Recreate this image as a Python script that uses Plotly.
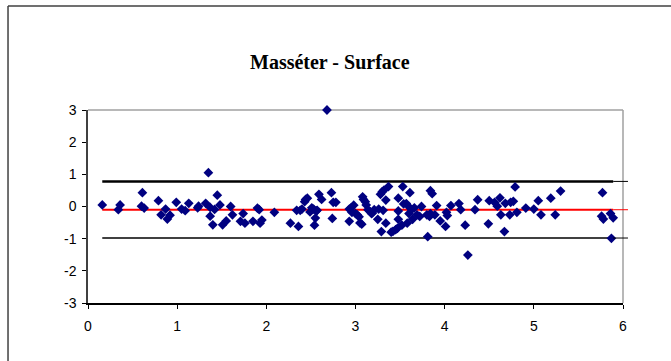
import plotly.graph_objects as go

# Bland-Altman style differences: mean value (x) vs difference (y)
mean_vals = [
    0.16, 0.34, 0.36, 0.61, 0.60, 0.63, 0.79, 0.82, 0.87, 0.89, 0.92, 0.99,
    1.05, 1.09, 1.13, 1.23, 1.24, 1.32, 1.35, 1.37, 1.37, 1.40, 1.42, 1.45,
    1.48, 1.51, 1.55, 1.60, 1.62, 1.71, 1.74, 1.76, 1.85, 1.90, 1.92, 1.93,
    1.95, 2.09, 2.27, 2.34, 2.36, 2.38, 2.40, 2.43, 2.44, 2.46, 2.49, 2.51,
    2.53, 2.54, 2.55, 2.56, 2.57, 2.59, 2.62, 2.68, 2.73, 2.74, 2.75, 2.78,
    2.93, 2.93, 2.95, 2.96, 2.98, 3.00, 3.02, 3.04, 3.05, 3.07, 3.08, 3.09,
    3.11, 3.12, 3.14, 3.16, 3.18, 3.19, 3.21, 3.25, 3.26, 3.28, 3.30, 3.29,
    3.31, 3.32, 3.34, 3.34, 3.37, 3.40, 3.42, 3.45, 3.47, 3.48, 3.48, 3.48,
    3.52, 3.53, 3.54, 3.57, 3.58, 3.60, 3.61, 3.61, 3.63, 3.64, 3.66, 3.69,
    3.72, 3.74, 3.80, 3.81, 3.83, 3.84, 3.84, 3.86, 3.89, 3.91, 3.95, 4.02,
    4.01, 4.03, 4.07, 4.16, 4.18, 4.23, 4.26, 4.34, 4.37, 4.49, 4.50, 4.56,
    4.59, 4.62, 4.63, 4.67, 4.68, 4.73, 4.74, 4.77, 4.79, 4.81, 4.91, 5.00,
    5.05, 5.08, 5.19, 5.24, 5.30, 5.77, 5.76, 5.78, 5.86, 5.87, 5.89,
]
diff_vals = [
    0.05, -0.10, 0.05, 0.43, 0.01, -0.05, 0.18, -0.26, -0.08, -0.39, -0.27, 0.13,
    -0.08, -0.13, 0.10, -0.04, 0.01, 0.10, 1.05, -0.30, -0.03, -0.57, -0.09, 0.35,
    0.05, -0.57, -0.45, 0.00, -0.26, -0.46, -0.22, -0.52, -0.46, -0.05, -0.10, -0.52,
    -0.42, -0.18, -0.52, -0.12, -0.62, -0.12, -0.08, 0.15, 0.22, 0.26, -0.17, -0.04,
    -0.08, -0.58, -0.36, -0.14, -0.12, 0.38, 0.22, 3.00, 0.43, -0.37, 0.13, 0.13,
    -0.46, -0.08, -0.04, -0.18, 0.04, -0.22, -0.26, -0.32, -0.51, -0.55, 0.30, 0.22,
    0.15, 0.05, -0.10, -0.15, -0.22, -0.20, -0.10, -0.40, -0.08, 0.38, 0.46, -0.78,
    -0.12, 0.51, 0.20, -0.52, 0.62, -0.80, -0.77, -0.72, -0.68, -0.14, 0.26, -0.40,
    -0.58, 0.62, 0.08, 0.09, -0.52, -0.22, 0.43, -0.04, -0.10, -0.40, -0.04, -0.26,
    -0.31, 0.00, -0.26, -0.94, -0.31, -0.22, 0.49, 0.40, -0.26, 0.03, -0.45, -0.18,
    -0.62, -0.28, 0.03, 0.09, -0.10, -0.58, -1.51, -0.10, 0.21, -0.54, 0.18, 0.13,
    0.01, 0.27, -0.26, -0.78, 0.10, -0.26, 0.13, 0.16, 0.61, -0.18, -0.05, -0.08,
    0.18, -0.26, 0.26, -0.26, 0.48, 0.43, -0.30, -0.39, -0.22, -0.99, -0.35,
]

mean_diff = -0.10
upper_loa = 0.78
lower_loa = -0.98
x_ticks = [0, 1, 2, 3, 4, 5, 6]
y_ticks = [-3, -2, -1, 0, 1, 2, 3]

x_start = min(mean_vals)
x_end = max(mean_vals)

fig = go.Figure()

# Reference lines (drawn across the data range)
for level, color, width in [(upper_loa, "#000000", 2.5),
                            (mean_diff, "#ff0000", 2.0),
                            (lower_loa, "#000000", 1.5)]:
    fig.add_trace(go.Scatter(
        x=[x_start, x_end], y=[level, level], mode="lines",
        line=dict(color=color, width=width), hoverinfo="skip",
        showlegend=False, cliponaxis=False,
    ))

fig.add_trace(go.Scatter(
    x=mean_vals, y=diff_vals, mode="markers",
    marker=dict(symbol="diamond", size=7.5, color="#000080",
                line=dict(width=0)),
    showlegend=False, cliponaxis=False,
))

# Thin extensions of the reference lines past the plot edge
for level, color in [(upper_loa, "#000000"), (mean_diff, "#ff0000"),
                     (lower_loa, "#000000")]:
    fig.add_shape(type="line", xref="paper", yref="y",
                  x0=x_end / 6.0, x1=1.0093, y0=level, y1=level,
                  line=dict(color=color, width=1))

# Grey top and right frame of the plot area
fig.add_shape(type="line", xref="paper", yref="paper", x0=0, x1=1, y0=1, y1=1,
              line=dict(color="#a0a0a0", width=1.5), layer="below")
fig.add_shape(type="line", xref="paper", yref="paper", x0=1, x1=1, y0=0, y1=1,
              line=dict(color="#a0a0a0", width=1.5), layer="below")

# Outer chart border (left and top edges; the rest runs off the page)
fig.add_shape(type="line", xref="paper", yref="paper",
              x0=-0.1495, x1=-0.1495, y0=-0.6, y1=1.539,
              line=dict(color="#404040", width=1.5))
fig.add_shape(type="line", xref="paper", yref="paper",
              x0=-0.1495, x1=1.3, y0=1.539, y1=1.539,
              line=dict(color="#404040", width=1.5))

fig.add_annotation(
    text="<b>Masséter - Surface</b>", xref="paper", yref="paper",
    x=0.452, y=1.25, showarrow=False, xanchor="center", yanchor="middle",
    font=dict(family="Liberation Serif", size=20, color="#000000"),
)

axis_font = dict(family="Liberation Sans, Arial", size=14, color="#000000")

fig.update_layout(
    width=671, height=361,
    margin=dict(l=88, r=48, t=110, b=58),
    paper_bgcolor="white", plot_bgcolor="white",
    showlegend=False,
    xaxis=dict(
        range=[0, 6], tickvals=x_ticks, ticktext=[str(v) for v in x_ticks],
        showgrid=False, zeroline=False, showline=True,
        linecolor="#000000", linewidth=1.5,
        ticks="outside", ticklen=4, tickcolor="#000000",
        tickfont=axis_font, ticklabelstandoff=5, fixedrange=True,
    ),
    yaxis=dict(
        range=[-3, 3], tickvals=y_ticks, ticktext=[str(v) for v in y_ticks],
        showgrid=False, zeroline=False, showline=True,
        linecolor="#404040", linewidth=1.5,
        ticks="outside", ticklen=4, tickcolor="#000000",
        tickfont=axis_font, ticklabelstandoff=3, fixedrange=True,
    ),
)

fig.write_html("out.html")
